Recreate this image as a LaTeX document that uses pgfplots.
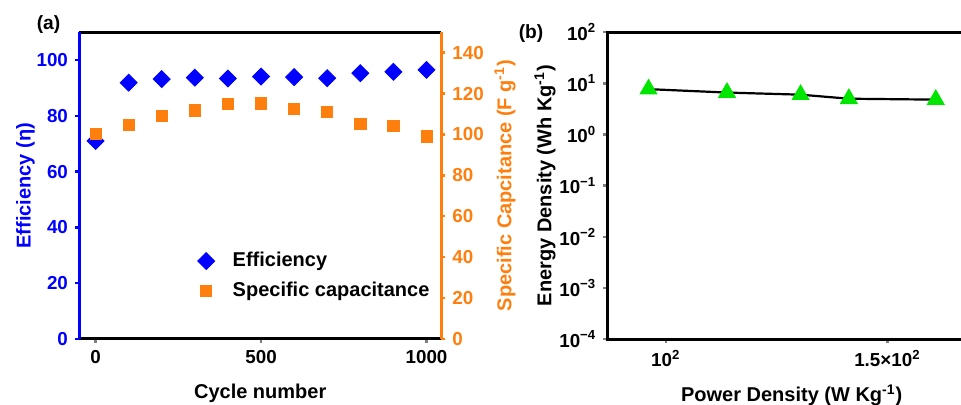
\documentclass[border=0pt]{standalone}
\usepackage{fontspec}
\setmainfont{Liberation Sans}
\usepackage{pgfplots}
\pgfplotsset{compat=1.18}
\definecolor{effblue}{RGB}{0,0,255}
\definecolor{caporange}{RGB}{255,127,14}
\definecolor{trigreen}{RGB}{0,230,0}
\begin{document}
\begin{tikzpicture}[font=\fontsize{9.5}{11}\selectfont\bfseries]
\pgfplotsset{every axis/.append style={
  scale only axis, tick align=outside, major tick length=2pt,
  /pgf/number format/assume math mode=true,
  /pgf/number format/set thousands separator={},
  tick style={line width=1.2pt},
  label style={font=\fontsize{10}{11}\selectfont\bfseries},
  ticklabel style={font=\fontsize{9.4}{11}\selectfont\bfseries},
}}
% ---------- panel (a), left axis ----------
\begin{axis}[
  at={(39.5pt,33pt)}, anchor=south west,
  width=181.2pt, height=153.4pt,
  xmin=-50, xmax=1045, ymin=0, ymax=110,
  separate axis lines,
  axis x line*=box, axis y line*=left,
  xtick={0,500,1000}, ytick={0,20,40,60,80,100},
  xtick pos=left,
  x axis line style={black, line width=1.5pt},
  y axis line style={effblue, line width=1.5pt},
  ytick style={effblue, line width=1.2pt},
  yticklabel style={text=effblue},
  xlabel={Cycle number},
  xlabel shift=3.5pt,
  ylabel={Efficiency (η)},
  ylabel shift=-6pt,
  ylabel style={text=effblue},
  legend style={draw=none, fill=none, at={(0.31,0.31)}, anchor=north west,
    row sep=2pt, font=\fontsize{10}{11}\selectfont\bfseries},
  legend cell align=left,
]
\addplot[only marks, mark=square*, mark options={rotate=45}, color=effblue, mark size=3pt]
  coordinates {(0,71.0) (100,91.9) (200,93.2) (300,93.7) (400,93.4) (500,94.1)
               (600,93.9) (700,93.5) (800,95.3) (900,95.8) (1000,96.5)};
\addlegendentry{\hspace{7pt}Efficiency}
\addlegendimage{only marks, mark=square*, color=caporange, mark size=2.8pt}
\addlegendentry{\hspace{7pt}Specific capacitance}
\end{axis}
% ---------- panel (a), right axis ----------
\begin{axis}[
  at={(39.5pt,33pt)}, anchor=south west,
  width=181.2pt, height=153.4pt,
  xmin=-50, xmax=1045, ymin=0, ymax=150,
  axis x line=none, axis y line*=right,
  ytick={0,20,40,60,80,100,120,140},
  y axis line style={caporange, line width=1.5pt},
  ytick style={caporange, line width=1.2pt},
  yticklabel style={text=caporange},
  ylabel={Specific Capcitance (F g\textsuperscript{-1})},
  ylabel shift=-1.5pt,
  ylabel style={text=caporange},
]
\addplot[only marks, mark=square*, color=caporange, mark size=2.8pt]
  coordinates {(0,100.2) (100,104.8) (200,109.2) (300,111.8) (400,114.9) (500,115.2)
               (600,112.6) (700,111.1) (800,105.3) (900,104.3) (1000,99.1)};
\end{axis}
% ---------- panel (b) ----------
\begin{axis}[
  at={(303.65pt,33pt)}, anchor=south west,
  width=184.4pt, height=153.4pt,
  xmin=86.8, xmax=170, ymode=log, ymin=1e-4, ymax=1e2,
  axis line style={black, line width=1.5pt},
  xtick={100,150}, xticklabels={10\textsuperscript{2},1.5×10\textsuperscript{2}},
  ytick={1e-4,1e-3,1e-2,1e-1,1,10,100},
  yticklabels={10\textsuperscript{−4},10\textsuperscript{−3},10\textsuperscript{−2},10\textsuperscript{−1},10\textsuperscript{0},10\textsuperscript{1},10\textsuperscript{2}},
  xtick pos=left, ytick pos=left,
  minor tick num=0, minor tick style={draw=none},
  xlabel={Power Density (W Kg\textsuperscript{-1})},
  xlabel shift=2pt,
  ylabel={Energy Density (Wh Kg\textsuperscript{-1})},
  ylabel shift=-5pt,
]
\addplot[black, line width=1.1pt, mark=triangle*, mark size=4.2pt,
  mark options={fill=trigreen, draw=trigreen}]
  coordinates {(96.1,7.7) (113.8,6.6) (130.4,6.0) (141.3,5.0) (160.9,4.8)};
\end{axis}
\node[font=\fontsize{9.6}{11}\selectfont\bfseries] at (24.25pt,190pt) {(a)};
\node[font=\fontsize{9.6}{11}\selectfont\bfseries] at (265.5pt,185.75pt) {(b)};
\pgfresetboundingbox
\path[use as bounding box] (0,0) rectangle (480.5pt,202.5pt);
\end{tikzpicture}
\end{document}
